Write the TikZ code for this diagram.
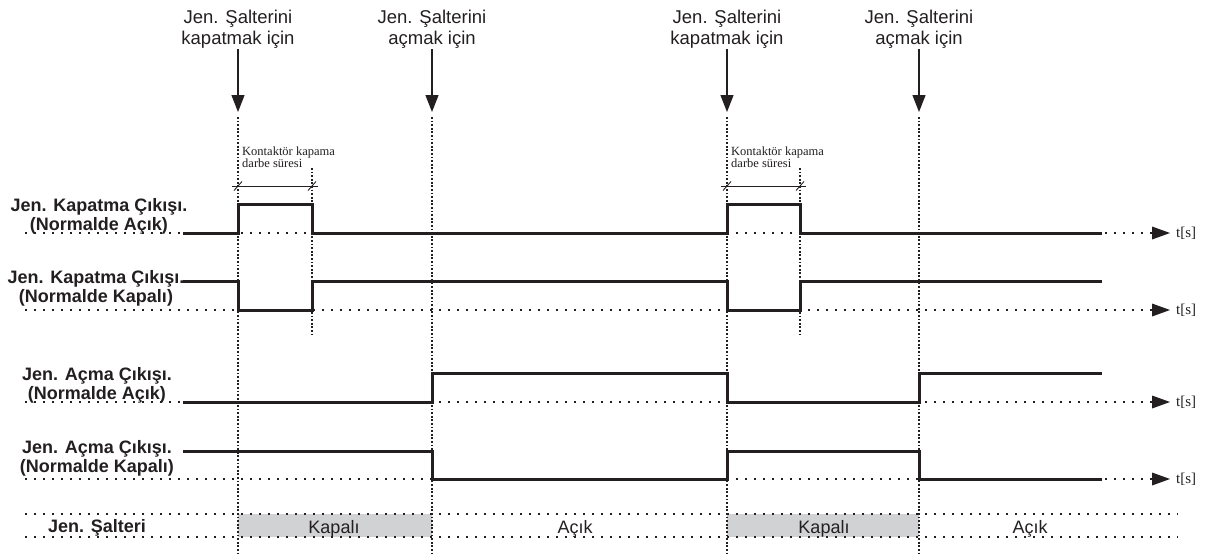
\documentclass[tikz,border=0pt]{standalone}
\usepackage{fontspec}
\setmainfont{Liberation Sans}
\newfontfamily\tmsfont{Liberation Serif}
\usetikzlibrary{arrows.meta}
\definecolor{ink}{HTML}{231F20}
\definecolor{boxgray}{HTML}{D1D2D4}
\begin{document}
\begin{tikzpicture}[x=1pt,y=-1pt,
  sig/.style={line width=3pt, draw=ink, line join=miter, line cap=butt},
  axisline/.style={line width=2pt, draw=ink, dash pattern=on 2pt off 7pt},
  vgrid/.style={line width=1.8pt, draw=ink, dash pattern=on 1.8pt off 1.8pt},
  toplbl/.style={font=\fontsize{18.5}{21}\selectfont, align=center, text=ink, inner sep=0pt, anchor=base},
  sidelbl/.style={font=\fontsize{18}{18.5}\selectfont\bfseries, align=center, text=ink, inner sep=0pt, anchor=base},
  statelbl/.style={font=\fontsize{18}{19}\selectfont, text=ink, inner sep=0pt, anchor=base},
  tlbl/.style={font=\tmsfont\fontsize{15}{16}\selectfont, text=ink, inner sep=0pt, anchor=west},
  notelbl/.style={font=\tmsfont\fontsize{12.5}{12}\selectfont, align=left, text=ink, inner sep=0pt, anchor=base west},
  toparrow/.style={line width=1.3pt, draw=ink, -{Triangle[length=17pt,width=13pt]}},
  dimline/.style={line width=0.9pt, draw=ink}
]
\useasboundingbox (0,0) rectangle (1210,558);

% state boxes
\fill[boxgray] (238,514) rectangle (432,537);
\fill[boxgray] (727,514) rectangle (919,537);

% top labels and arrows (anchor = baseline of last line)
\node[toplbl] (c1) at (238,44) {Jen. Şalterini\\kapatmak için};
\node[toplbl] (o1) at (432,44) {Jen. Şalterini\\açmak için};
\node[toplbl] (c2) at (727,44) {Jen. Şalterini\\kapatmak için};
\node[toplbl] (o2) at (919,44) {Jen. Şalterini\\açmak için};
\coordinate (c1t) at (238,112);
\coordinate (o1t) at (432,112);
\coordinate (c2t) at (727,112);
\coordinate (o2t) at (919,112);
\draw[toparrow] (c1.south |- 0,49) -- (c1t);
\draw[toparrow] (o1.south |- 0,49) -- (o1t);
\draw[toparrow] (c2.south |- 0,49) -- (c2t);
\draw[toparrow] (o2.south |- 0,49) -- (o2t);

% vertical time markers
\draw[vgrid] (238,117) -- (238,556);
\draw[vgrid] (432,117) -- (432,556);
\draw[vgrid] (727,117) -- (727,556);
\draw[vgrid] (919,117) -- (919,556);
\draw[vgrid] (312,168) -- (312,337);
\draw[vgrid] (800,168) -- (800,337);

% pulse duration annotations
\node[notelbl] (n1) at (242,167) {Kontaktör kapama\\darbe süresi};
\node[notelbl] (n2) at (731,167) {Kontaktör kapama\\darbe süresi};
\draw[dimline] (232,186) -- (318,186);
\draw[dimline] (234,190.5) -- (242,181.5);
\draw[dimline] (308,190.5) -- (316,181.5);
\draw[dimline] (721,186) -- (806,186);
\draw[dimline] (723,190.5) -- (731,181.5);
\draw[dimline] (796,190.5) -- (804,181.5);

% side labels (anchor = baseline of last line)
\node[sidelbl] (r1) at (99,230) {Jen. Kapatma Çıkışı.\\(Normalde Açık)};
\node[sidelbl] (r2) at (96,302) {Jen. Kapatma Çıkışı.\\(Normalde Kapalı)};
\node[sidelbl] (r3) at (97,399) {Jen. Açma Çıkışı.\\(Normalde Açık)};
\node[sidelbl] (r4) at (97,472) {Jen. Açma Çıkışı.\\(Normalde Kapalı)};

% time axes
\foreach \yy/\nm in {233/a1,310/a2,402/a3,479/a4}{
  \draw[axisline] (25,\yy) -- (1152,\yy);
  \fill[ink] (1152,\yy-6.5) -- (1170,\yy) -- (1152,\yy+6.5) -- cycle;
  \node[tlbl] (\nm) at (1176,\yy) {t[s]};
}

% signals
\draw[sig] (183,233) -- (238,233) -- (238,204) -- (312,204) -- (312,233) -- (727,233) -- (727,204) -- (800,204) -- (800,233) -- (1102,233);
\draw[sig] (183,281) -- (238,281) -- (238,310) -- (312,310) -- (312,281) -- (727,281) -- (727,310) -- (800,310) -- (800,281) -- (1102,281);
\draw[sig] (183,402) -- (432,402) -- (432,373) -- (727,373) -- (727,402) -- (919,402) -- (919,373) -- (1102,373);
\draw[sig] (183,451) -- (432,451) -- (432,479) -- (727,479) -- (727,451) -- (919,451) -- (919,479) -- (1102,479);

% breaker state row
\draw[axisline] (25,514) -- (1178,514);
\draw[axisline] (25,537) -- (1178,537);
\node[sidelbl] (s0) at (97,532) {Jen. Şalteri};
\node[statelbl] (s1) at (334,533) {Kapalı};
\node[statelbl] (s2) at (575,533) {Açık};
\node[statelbl] (s3) at (824,533) {Kapalı};
\node[statelbl] (s4) at (1030,533) {Açık};
\end{tikzpicture}
\end{document}
